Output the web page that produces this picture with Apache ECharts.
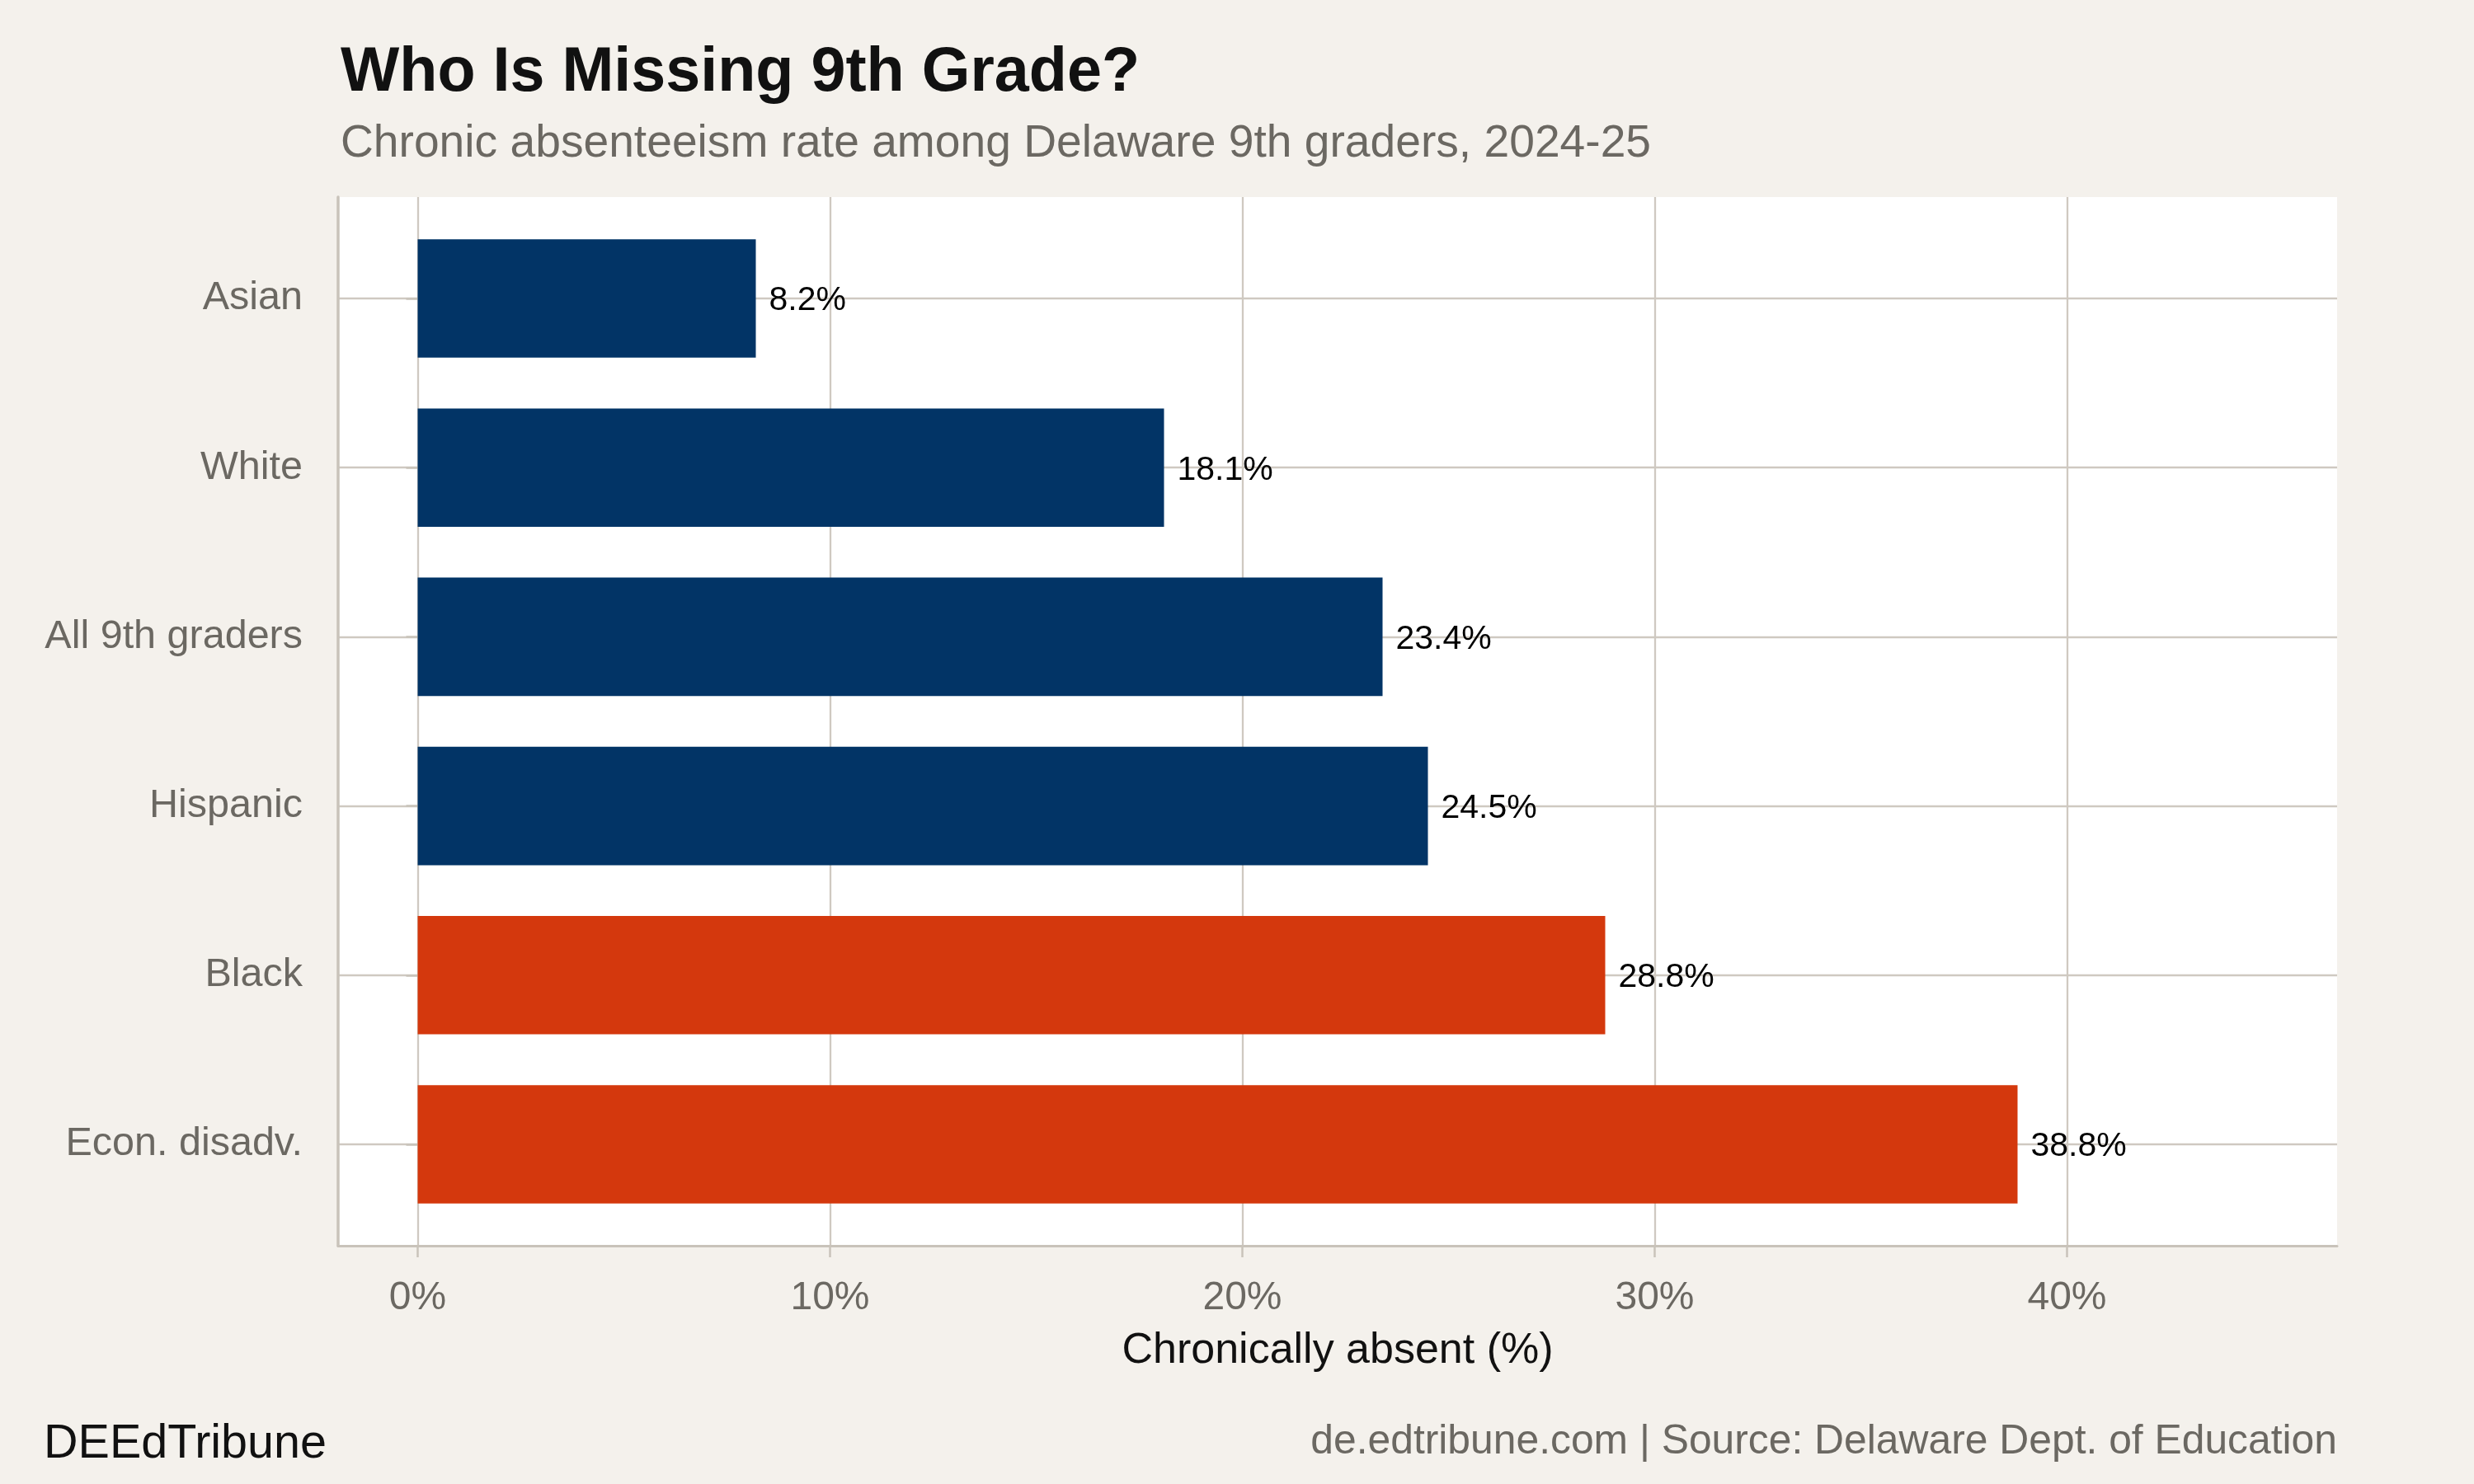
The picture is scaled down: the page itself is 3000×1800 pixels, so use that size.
<!DOCTYPE html>
<html>
<head>
<meta charset="utf-8">
<title>Who Is Missing 9th Grade?</title>
<script src="https://cdn.jsdelivr.net/npm/echarts@6/dist/echarts.min.js"></script>
<style>
  html, body { margin: 0; padding: 0; background: #F4F1EC; }
  #chart { width: 3000px; height: 1800px; }
</style>
</head>
<body>
<div id="chart"></div>
<script>
// data
const categories = ['Asian', 'White', 'All 9th graders', 'Hispanic', 'Black', 'Econ. disadv.']
const rates = [8.2, 18.1, 23.4, 24.5, 28.8, 38.8]
const highlighted = ['Black', 'Econ. disadv.']
const xTicks = [0, 10, 20, 30, 40]

const BLUE = '#023466'
const RED = '#D4380D'
const GRID_COLOR = '#CFC9C1'
const AXIS_COLOR = '#C9C3BA'
const GRAY_TEXT = '#6B6862'
const FONT = "'Liberation Sans', Arial, Helvetica, sans-serif"

const chart = echarts.init(document.getElementById('chart'))

const option = {
  backgroundColor: '#F4F1EC',
  animation: false,
  textStyle: { fontFamily: FONT },
  title: [
    {
      text: 'Who Is Missing 9th Grade?',
      left: 413,
      top: 51,
      padding: 0,
      textStyle: { fontSize: 75.5, fontWeight: 'bold', color: '#111111', fontFamily: FONT }
    },
    {
      text: 'Chronic absenteeism rate among Delaware 9th graders, 2024-25',
      left: 413,
      top: 147,
      padding: 0,
      textStyle: { fontSize: 55.2, fontWeight: 'normal', color: GRAY_TEXT, fontFamily: FONT }
    },
    {
      text: 'DEEdTribune',
      left: 53,
      top: 1723,
      padding: 0,
      textStyle: { fontSize: 57.5, fontWeight: 'normal', color: '#111111', fontFamily: FONT }
    },
    {
      text: 'de.edtribune.com | Source: Delaware Dept. of Education',
      right: 166,
      top: 1724,
      padding: 0,
      textStyle: { fontSize: 49.8, fontWeight: 'normal', color: GRAY_TEXT, fontFamily: FONT }
    }
  ],
  grid: [
    // panel
    {
      left: 410,
      right: 166,
      top: 239,
      bottom: 289,
      show: true,
      backgroundColor: '#FFFFFF',
      borderWidth: 0
    },
    // bars: first/last category centres
    {
      left: 410,
      right: 166,
      top: 362,
      bottom: 412
    }
  ],
  xAxis: [
    {
      gridIndex: 0,
      type: 'value',
      min: -1.93,
      max: 46.55,
      name: 'Chronically absent (%)',
      nameLocation: 'middle',
      nameGap: 102,
      nameTextStyle: { fontSize: 52, color: '#111111', fontFamily: FONT },
      axisLine: { show: true, onZero: false, lineStyle: { color: AXIS_COLOR, width: 3 } },
      axisTick: { show: true, length: 14, customValues: xTicks, lineStyle: { color: AXIS_COLOR, width: 2.5 } },
      axisLabel: {
        customValues: xTicks,
        formatter: '{value}%',
        margin: 40,
        fontSize: 48,
        color: GRAY_TEXT,
        fontFamily: FONT
      },
      splitLine: { show: true, lineStyle: { color: GRID_COLOR, width: 2.3 } }
    },
    {
      gridIndex: 1,
      type: 'value',
      min: -1.93,
      max: 46.55,
      show: false
    }
  ],
  yAxis: [
    {
      gridIndex: 0,
      type: 'value',
      axisLine: { show: true, onZero: false, lineStyle: { color: AXIS_COLOR, width: 3.5 } },
      axisTick: { show: false },
      axisLabel: { show: false },
      splitLine: { show: false }
    },
    {
      gridIndex: 1,
      type: 'category',
      data: categories,
      inverse: true,
      boundaryGap: false,
      axisLine: { show: false },
      axisTick: { show: true, length: 14, lineStyle: { color: AXIS_COLOR, width: 2.5 } },
      axisLabel: { margin: 43, fontSize: 48.5, color: GRAY_TEXT, fontFamily: FONT },
      splitLine: { show: true, lineStyle: { color: GRID_COLOR, width: 2.3 } }
    }
  ],
  series: [
    {
      type: 'bar',
      xAxisIndex: 1,
      yAxisIndex: 1,
      data: rates,
      barWidth: '70%',
      clip: false,
      itemStyle: {
        color: function (p) {
          return highlighted.indexOf(p.name) >= 0 ? RED : BLUE
        }
      },
      label: {
        show: true,
        position: 'right',
        distance: 16,
        offset: [0, 3],
        fontSize: 41,
        color: '#000000',
        fontFamily: FONT,
        formatter: function (p) {
          return p.value.toFixed(1) + '%'
        }
      }
    }
  ]
}

chart.setOption(option)
</script>
</body>
</html>
